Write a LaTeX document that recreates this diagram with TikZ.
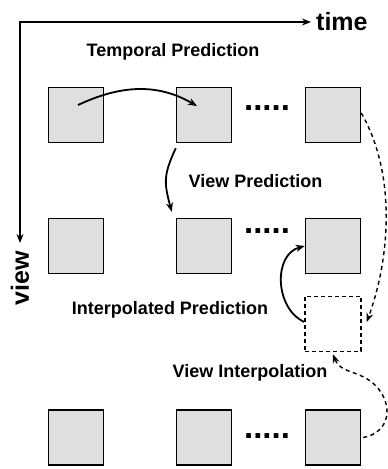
\documentclass[tikz,border=0pt]{standalone}
\usepackage{fontspec}
\setmainfont{Liberation Sans}
\usetikzlibrary{arrows.meta,positioning}

\begin{document}
\begin{tikzpicture}[x=1pt, y=1pt, >={Stealth[length=9pt,width=7pt]},
    block/.style={draw, line width=1.5pt, fill=gray!25, minimum width=55pt, minimum height=55pt, inner sep=0pt},
    missing/.style={draw, line width=1.5pt, dash pattern=on 4pt off 3pt, minimum width=56pt, minimum height=55pt, inner sep=0pt},
    note/.style={font=\fontsize{18}{20}\selectfont\bfseries, inner sep=0pt, anchor=base},
    ellip/.style={font=\fontsize{33}{33}\selectfont\bfseries, inner sep=0pt},
    axis/.style={font=\fontsize{25}{25}\selectfont\bfseries, inner sep=0pt}]
    \useasboundingbox (0,0) rectangle (388,469);

    % 坐标轴
    \coordinate (O) at (20,447);
    \coordinate (T) at (311,447);
    \coordinate (V) at (20,226);
    \draw[<->, line width=1.8pt] (V) -- (O) -- (T);
    \node[axis, right=5pt of T] (time) {time};
    \node[axis, rotate=90] (view) at (20,191) {view};

    % 第一行
    \node[block] (f11) at (76,354) {};
    \node[block] (f12) at (204,354) {};
    \node[block] (f13) at (333,354) {};
    \node[ellip] (d1) at (267,361) {.....};

    % 第二行
    \node[block] (f21) at (76,223) {};
    \node[block] (f22) at (204,223) {};
    \node[block] (f23) at (333,223) {};
    \node[ellip] (d2) at (267,238) {.....};

    % 插值帧
    \node[missing] (mid) at (333,145) {};

    % 第三行
    \node[block] (f31) at (76,31.5) {};
    \node[block] (f32) at (204,31.5) {};
    \node[block] (f33) at (333,31.5) {};
    \node[ellip] (d3) at (267,33) {.....};

    % 标注
    \node[note] (tp) at (173,412) {Temporal Prediction};
    \node[note] (vp) at (255.5,281) {View Prediction};
    \node[note] (ip) at (170,154) {Interpolated Prediction};
    \node[note] (vi) at (250,91) {View Interpolation};

    % 预测箭头
    \draw[->, line width=1.8pt] ([xshift=2pt,yshift=10pt]f11.center) to[out=25,in=150] ([xshift=-7pt,yshift=9pt]f12.center);
    \draw[->, line width=1.8pt] ([yshift=-5pt]f12.south west) to[out=245,in=105,looseness=1.2] ([xshift=-4pt,yshift=6pt]f22.north west);
    \draw[->, line width=1.8pt] ([yshift=2pt]mid.west) to[out=155,in=195,looseness=1.1] (f23.west);

    % 插值箭头
    \draw[->, line width=1.4pt, dash pattern=on 4pt off 3.5pt] ([yshift=2pt]f13.east) to[out=-60,in=70,looseness=0.85] ([xshift=5pt,yshift=2pt]mid.east);
    \coordinate (bend) at (375,84);
    \draw[->, line width=1.4pt, dash pattern=on 4pt off 3.5pt] ([xshift=2pt]f33.east) to[out=10,in=-45,looseness=1.3] (bend) to[out=135,in=-70] ([yshift=-2pt]mid.south);

\end{tikzpicture}
\end{document}
